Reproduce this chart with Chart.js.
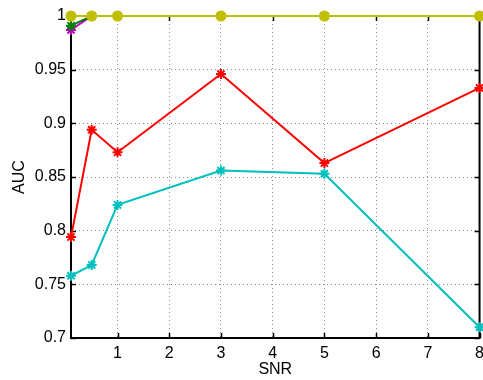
<!DOCTYPE html>
<html>
<head>
<meta charset="utf-8">
<script src="https://cdn.jsdelivr.net/npm/chart.js@4"></script>
<style>
  html, body { margin: 0; padding: 0; background: #fff; }
  #wrap { width: 483px; height: 380px; overflow: hidden; }
</style>
</head>
<body>
<div id="wrap"><canvas id="grafico" width="490" height="380"></canvas></div>
<script>
// valores de SNR e AUC
const snr = [0.1, 0.5, 1, 3, 5, 8];
const aucAmarelo = [1, 1, 1, 1, 1, 1];
const aucVerde = [0.991, 1, 1, 1, 1, 1];
const aucMagenta = [0.987, 1, 1, 1, 1, 1];
const aucVermelho = [0.794, 0.894, 0.873, 0.946, 0.863, 0.933];
const aucCiano = [0.758, 0.768, 0.824, 0.856, 0.853, 0.710];
const xTicks = [1, 2, 3, 4, 5, 6, 7, 8];
const yTicks = [0.7, 0.75, 0.8, 0.85, 0.9, 0.95, 1];

const fonte = { family: "'Liberation Sans', Arial, sans-serif", size: 16 };

function pontos(valores) {
  return snr.map((x, i) => ({ x: x, y: valores[i] }));
}

function serie(valores, cor, estilo) {
  return {
    data: pontos(valores),
    borderColor: cor,
    backgroundColor: cor,
    pointBorderColor: cor,
    pointBackgroundColor: cor,
    borderWidth: 2,
    pointStyle: estilo,
    pointRadius: estilo === 'circle' ? 4.5 : 5,
    pointBorderWidth: 2,
    tension: 0,
    clip: false
  };
}

// caixa do eixo e marcas internas, estilo MATLAB
const caixa = {
  id: 'caixa',
  beforeDatasetsDraw(chart) {
    const { ctx, chartArea: a, scales } = chart;
    ctx.save();
    ctx.strokeStyle = '#000';
    ctx.lineWidth = 1.5;
    ctx.beginPath();
    scales.x.ticks.forEach((t) => {
      const px = Math.round(scales.x.getPixelForValue(t.value)) + 0.5;
      ctx.moveTo(px, a.bottom); ctx.lineTo(px, a.bottom - 5);
      ctx.moveTo(px, a.top); ctx.lineTo(px, a.top + 5);
    });
    scales.y.ticks.forEach((t) => {
      const py = Math.round(scales.y.getPixelForValue(t.value)) + 0.5;
      ctx.moveTo(a.left, py); ctx.lineTo(a.left + 5, py);
      ctx.moveTo(a.right, py); ctx.lineTo(a.right - 5, py);
    });
    ctx.stroke();
    ctx.lineWidth = 2;
    ctx.strokeRect(a.left, a.top, a.right - a.left, a.bottom - a.top);
    ctx.restore();
  }
};

const ctx = document.getElementById('grafico').getContext('2d');
new Chart(ctx, {
  type: 'line',
  data: {
    datasets: [
      serie(aucAmarelo, '#bfbf00', 'circle'),
      serie(aucVerde, '#008000', 'star'),
      serie(aucMagenta, '#bf00bf', 'star'),
      serie(aucVermelho, '#ff0000', 'star'),
      serie(aucCiano, '#00bfbf', 'star')
    ]
  },
  options: {
    responsive: false,
    devicePixelRatio: 1,
    animation: false,
    layout: { padding: { left: 0, right: 10, top: 16, bottom: 0 } },
    plugins: { legend: { display: false }, tooltip: { enabled: false } },
    scales: {
      x: {
        type: 'linear',
        min: 0.1,
        max: 8,
        afterBuildTicks: (scale) => { scale.ticks = xTicks.map((v) => ({ value: v })); },
        afterFit: (scale) => { scale.height = 42; },
        ticks: { color: '#000', font: fonte, padding: 6, maxRotation: 0, callback: (v) => String(v) },
        grid: { color: '#8c8c8c', drawTicks: false, lineWidth: 1 },
        border: { display: false, dash: [1, 3] },
        title: { display: true, text: 'SNR', color: '#000', font: fonte, padding: { top: 0, bottom: 1 } }
      },
      y: {
        min: 0.7,
        max: 1,
        afterBuildTicks: (scale) => { scale.ticks = yTicks.map((v) => ({ value: v })); },
        afterFit: (scale) => { scale.width = 71; },
        ticks: { color: '#000', font: fonte, padding: 5, callback: (v) => String(+v.toFixed(2)) },
        grid: { color: '#8c8c8c', drawTicks: false, lineWidth: 1 },
        border: { display: false, dash: [1, 3] },
        title: { display: true, text: 'AUC', color: '#000', font: fonte, padding: { top: 10, bottom: 0 } }
      }
    }
  },
  plugins: [caixa]
});
</script>
</body>
</html>
